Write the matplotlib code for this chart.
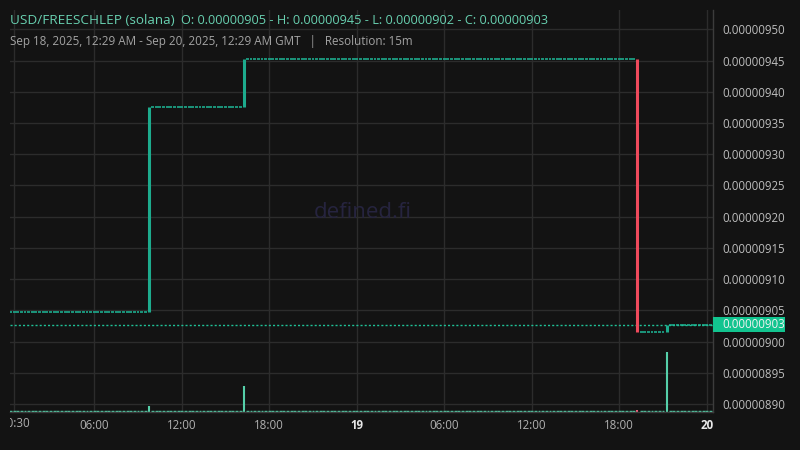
import numpy as np
import matplotlib
matplotlib.use('Agg')
import matplotlib.pyplot as plt
from matplotlib.patches import Rectangle
from matplotlib.transforms import Bbox, blended_transform_factory

# prices are in units of 1e-8 USD, times in hours after Sep 18, 2025 00:00 GMT
start_price = 904.7
trade_hours = [9.75, 16.25, 43.25, 45.25]
trade_open = [904.7, 937.5, 945.3, 901.6]
trade_close = [937.5, 945.3, 901.6, 902.65]
trade_volume = [55, 257, 15, 600]
last_price = 902.65

price_ticks = [890, 895, 900, 905, 910, 915, 920, 925, 930, 935, 940, 945, 950]
time_ticks = [0.5, 6, 12, 18, 24, 30, 36, 42, 48]
time_labels = ['00:30', '06:00', '12:00', '18:00', '19', '06:00', '12:00', '18:00', '20']
day_labels = ['19', '20']

BG = '#131313'
GRID = '#2c2c2c'
UP = '#1dab8d'
DOWN = '#ef4a5c'
VOL_UP = '#55cfa9'
VOL_DOWN = '#e8607a'
FONT = 'Open Sans'
plt.rcParams['font.family'] = [FONT, 'DejaVu Sans']

fig = plt.figure(figsize=(8, 4.5), dpi=100, facecolor=BG)
ax = fig.add_axes([10/800, 38.3/450, 702.7/800, 401.7/450])
ax.set_facecolor(BG)

# build the 15 minute candles, flat ones carry the last close
slots = np.arange(0, 48.5, 0.25)
flat_x, flat_y = [], []
price = start_price
for s in slots:
    hit = [abs(s - t) < 1e-6 for t in trade_hours]
    if any(hit):
        price = trade_close[hit.index(True)]
        continue
    flat_x.append(s)
    flat_y.append(price)
flat_x = np.array(flat_x)
flat_y = np.array(flat_y) * 1e-8

# volume along the bottom, in axes fraction
vmax = 4017.0
xt = ax.get_xaxis_transform()
ax.hlines(np.full(len(flat_x), 0.6/401.7), flat_x - 0.1, flat_x + 0.1,
          color=VOL_UP, lw=1.0, transform=xt, zorder=2)
for t, o, c, v in zip(trade_hours, trade_open, trade_close, trade_volume):
    col = VOL_UP if c >= o else VOL_DOWN
    ax.vlines(t, 0, v / vmax, color=col, lw=1.5, transform=xt, zorder=2)

# candles
ax.hlines(flat_y, flat_x - 0.1, flat_x + 0.1, color=UP, lw=1.2, zorder=3)
for t, o, c in zip(trade_hours, trade_open, trade_close):
    col = UP if c >= o else DOWN
    ax.vlines(t, o * 1e-8, c * 1e-8, color=col, lw=2.2, zorder=4)

# last price line + label
ax.axhline(last_price * 1e-8, color='#1fc197', lw=1.0, dashes=(1.5, 1.5), zorder=3)
bt = blended_transform_factory(ax.transAxes, ax.transData)
ax.add_patch(Rectangle((1.0, last_price * 1e-8 - 1.2e-8), 72/702.7, 2.4e-8,
                       transform=bt, clip_on=False, facecolor='#12c48f',
                       edgecolor='none', zorder=5))
ax.text(1.0 + 9.5/702.7, last_price * 1e-8, '%.8f' % (last_price * 1e-8),
        transform=bt, ha='left', va='center', color='#f2f2f2',
        fontsize=8.3, zorder=6, clip_on=False)

ax.set_xlim(0.22, 48.41)
ax.set_ylim(888.76e-8, 953.09e-8)

ax.yaxis.tick_right()
ax.set_yticks([p * 1e-8 for p in price_ticks])
ax.set_yticklabels(['%.8f' % (p * 1e-8) for p in price_ticks])
ax.tick_params(axis='y', length=0, pad=6.8, labelsize=8.3, labelcolor='#bdbdbd')

ax.set_xticks(time_ticks)
ax.set_xticklabels(['' if i == 0 else l for i, l in enumerate(time_labels)])
ax.tick_params(axis='x', length=0, pad=5, labelsize=8.3, labelcolor='#b0b0b0')
for lab in ax.get_xticklabels():
    if lab.get_text() in day_labels:
        lab.set_fontweight('bold')
        lab.set_color('#e8e8e8')

# first label is cut at the chart's left edge
first = ax.text(time_ticks[0] + 0.1, -5/401.7, time_labels[0], transform=xt,
                ha='center', va='top', fontsize=8.3, color='#b0b0b0')
first.set_clip_box(Bbox([[10, 0], [800, 450]]))
first.set_clip_on(True)

ax.grid(True, color=GRID, lw=1.0, zorder=0)
ax.set_axisbelow(True)
for side in ['left', 'top']:
    ax.spines[side].set_visible(False)
for side in ['right', 'bottom']:
    ax.spines[side].set_color('#3c3c3c')
    ax.spines[side].set_linewidth(1.0)

# watermark
ax.text(0.502, 0.497, 'defined.fi', transform=ax.transAxes, ha='center', va='center',
        fontsize=16, color='#26243f', zorder=1)

# header
t1 = fig.text(10/800, 1 - 20/450, 'USD/FREESCHLEP (solana)', color='#68d0b0',
              fontsize=9.7, va='center', ha='left')
fig.canvas.draw()
bb = t1.get_window_extent()
fig.text((bb.x1 + 6)/800, 1 - 20.5/450,
         'O: 0.00000905 - H: 0.00000945 - L: 0.00000902 - C: 0.00000903',
         color='#68d0b0', fontsize=9.2, va='center', ha='left')
fig.text(10/800, 1 - 41/450,
         'Sep 18, 2025, 12:29 AM - Sep 20, 2025, 12:29 AM GMT   |   Resolution: 15m',
         color='#a3a3a3', fontsize=8.4, va='center', ha='left')

fig.savefig('out.png', dpi=100, facecolor=BG)
